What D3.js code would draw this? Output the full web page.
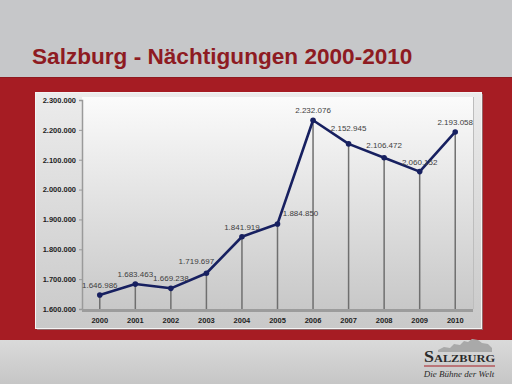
<!DOCTYPE html>
<html>
<head>
<meta charset="utf-8">
<script src="https://cdn.jsdelivr.net/npm/d3@7"></script>
<style>
  body { margin: 0; background: #c6c7c9; }
  svg { display: block; }
</style>
</head>
<body>
<div id="chart"></div>
<script>
// Data
var years = ["2000", "2001", "2002", "2003", "2004", "2005", "2006", "2007", "2008", "2009", "2010"];
var nights = [1646986, 1683463, 1669238, 1719697, 1841919, 1884850, 2232076, 2152945, 2106472, 2060152, 2193058];
var yTicks = [1600000, 1700000, 1800000, 1900000, 2000000, 2100000, 2200000, 2300000];

// label nudges (layout only) so they don't collide with the line
var labelNudge = { "2003": [-10, -2], "2005": [23, -1], "2007": [0, -6], "2008": [0, -3] };

var W = 512, H = 384;
var svg = d3.select("#chart").append("svg")
    .attr("width", W)
    .attr("height", H);

var defs = svg.append("defs");

var g1 = defs.append("linearGradient").attr("id", "panelGrad")
    .attr("x1", "0%").attr("y1", "0%").attr("x2", "0%").attr("y2", "100%");
g1.append("stop").attr("offset", "0%").attr("stop-color", "#ececec");
g1.append("stop").attr("offset", "100%").attr("stop-color", "#c9c9c9");

var g2 = defs.append("linearGradient").attr("id", "plotGrad")
    .attr("x1", "0%").attr("y1", "0%").attr("x2", "0%").attr("y2", "100%");
g2.append("stop").attr("offset", "0%").attr("stop-color", "#fbfbfb");
g2.append("stop").attr("offset", "100%").attr("stop-color", "#c8c8c8");

var g3 = defs.append("linearGradient").attr("id", "bottomGrad")
    .attr("x1", "0%").attr("y1", "0%").attr("x2", "0%").attr("y2", "100%");
g3.append("stop").attr("offset", "0%").attr("stop-color", "#dadada");
g3.append("stop").attr("offset", "100%").attr("stop-color", "#c6c6c6");

// slide background
svg.append("rect").attr("width", W).attr("height", H).attr("fill", "#c6c7c9");
svg.append("rect").attr("x", 0).attr("y", 77).attr("width", W).attr("height", 263).attr("fill", "#a61c23");
svg.append("rect").attr("x", 0).attr("y", 340).attr("width", W).attr("height", 44).attr("fill", "url(#bottomGrad)");
svg.append("line").attr("x1", 0).attr("x2", W).attr("y1", 77.5).attr("y2", 77.5)
    .attr("stroke", "#8f1a20").attr("stroke-width", 1);

// title
svg.append("text")
    .attr("x", 32)
    .attr("y", 64)
    .style("font-family", "Liberation Sans, Arial, sans-serif")
    .style("font-size", "22.6px")
    .style("font-weight", "bold")
    .style("fill", "#8e1b22")
    .text("Salzburg - Nächtigungen 2000-2010");

// chart panel
svg.append("rect")
    .attr("x", 37).attr("y", 94).attr("width", 446).attr("height", 236)
    .attr("fill", "#8a8a8a").attr("opacity", 0.7);
svg.append("rect")
    .attr("x", 35.5).attr("y", 92.5).attr("width", 446).attr("height", 236)
    .attr("fill", "url(#panelGrad)")
    .attr("stroke", "#f4f4f4").attr("stroke-width", 1);

var plotL = 82, plotR = 473, plotT = 100, plotB = 309;

var x = d3.scaleBand().domain(years).range([plotL, plotR]);
var y = d3.scaleLinear().domain([1600000, 2300000]).range([plotB, plotT]);

var de = d3.formatLocale({ decimal: ",", thousands: ".", grouping: [3], currency: ["", "€"] });
var fmt = de.format(",d");

// plot area
svg.append("rect")
    .attr("x", plotL).attr("y", plotT - 3).attr("width", plotR - plotL).attr("height", plotB - plotT + 3)
    .attr("fill", "url(#plotGrad)");
svg.append("line")
    .attr("x1", plotR + 0.5).attr("x2", plotR + 0.5).attr("y1", plotT - 3).attr("y2", plotB)
    .attr("stroke", "#bdbdbd").attr("stroke-width", 1);

// y axis
var yAxis = svg.append("g")
    .attr("transform", "translate(" + plotL + ",0)")
    .call(d3.axisLeft(y).tickValues(yTicks).tickFormat(fmt).tickSize(3).tickPadding(3));
yAxis.select(".domain").attr("stroke", "#9a9a9a").attr("stroke-width", 1.5);
yAxis.selectAll(".tick line").attr("stroke", "#9a9a9a");
yAxis.selectAll(".tick text")
    .style("font-family", "Liberation Sans, Arial, sans-serif")
    .style("font-size", "7.5px")
    .style("font-weight", "bold")
    .style("fill", "#1e1e1e");

// x axis (floor)
svg.append("rect")
    .attr("x", plotL).attr("y", plotB).attr("width", plotR - plotL).attr("height", 3)
    .attr("fill", "#9c9c9c");
var xAxis = svg.append("g")
    .attr("transform", "translate(0," + plotB + ")")
    .call(d3.axisBottom(x).tickSize(0).tickPadding(9));
xAxis.select(".domain").remove();
xAxis.selectAll(".tick text")
    .style("font-family", "Liberation Sans, Arial, sans-serif")
    .style("font-size", "7.5px")
    .style("font-weight", "bold")
    .style("fill", "#1e1e1e");

var pts = years.map(function (yr, i) { return { year: yr, value: nights[i] }; });
var cx = function (d) { return x(d.year) + x.bandwidth() / 2; };

// drop lines
svg.append("g").selectAll("line")
    .data(pts)
    .enter()
    .append("line")
    .attr("x1", cx).attr("x2", cx)
    .attr("y1", function (d) { return y(d.value); })
    .attr("y2", plotB)
    .attr("stroke", "#6f6f6f")
    .attr("stroke-width", 1.5);

// line
var line = d3.line().x(cx).y(function (d) { return y(d.value); });
svg.append("path")
    .datum(pts)
    .attr("d", line)
    .attr("fill", "none")
    .attr("stroke", "#172060")
    .attr("stroke-width", 2.6)
    .attr("stroke-linejoin", "round");

svg.append("g").selectAll("circle")
    .data(pts)
    .enter()
    .append("circle")
    .attr("cx", cx)
    .attr("cy", function (d) { return y(d.value); })
    .attr("r", 2.8)
    .attr("fill", "#172060");

// value labels
svg.append("g").selectAll("text")
    .data(pts)
    .enter()
    .append("text")
    .attr("x", function (d) { return cx(d) + (labelNudge[d.year] ? labelNudge[d.year][0] : 0); })
    .attr("y", function (d) { return y(d.value) - 7 + (labelNudge[d.year] ? labelNudge[d.year][1] : 0); })
    .attr("text-anchor", "middle")
    .style("font-family", "Liberation Sans, Arial, sans-serif")
    .style("font-size", "8px")
    .style("fill", "#404040")
    .text(function (d) { return fmt(d.value); });

// logo bottom right
var logo = svg.append("g");
logo.append("path")
    .attr("d", "M438,350 L444,347 L450,348 L454,344 L460,345 L464,341 L468,342 L472,339 L478,340 L482,343 L488,344 L492,348 L492,352 L438,352 Z")
    .attr("fill", "#a9a9a9");
logo.append("text")
    .attr("x", 459.5).attr("y", 362)
    .attr("text-anchor", "middle")
    .attr("textLength", 71)
    .attr("lengthAdjust", "spacingAndGlyphs")
    .style("font-family", "Liberation Serif, serif")
    .style("font-size", "16px")
    .style("font-weight", "bold")
    .style("fill", "#2a2a2a")
    .style("font-variant", "small-caps")
    .text("Salzburg");
logo.append("line")
    .attr("x1", 424).attr("x2", 495).attr("y1", 366).attr("y2", 366)
    .attr("stroke", "#a61c23").attr("stroke-width", 1);
logo.append("text")
    .attr("x", 459).attr("y", 377)
    .attr("text-anchor", "middle")
    .style("font-family", "Liberation Serif, serif")
    .style("font-size", "9px")
    .style("font-style", "italic")
    .style("fill", "#2a2a2a")
    .text("Die Bühne der Welt");
</script>
</body>
</html>
